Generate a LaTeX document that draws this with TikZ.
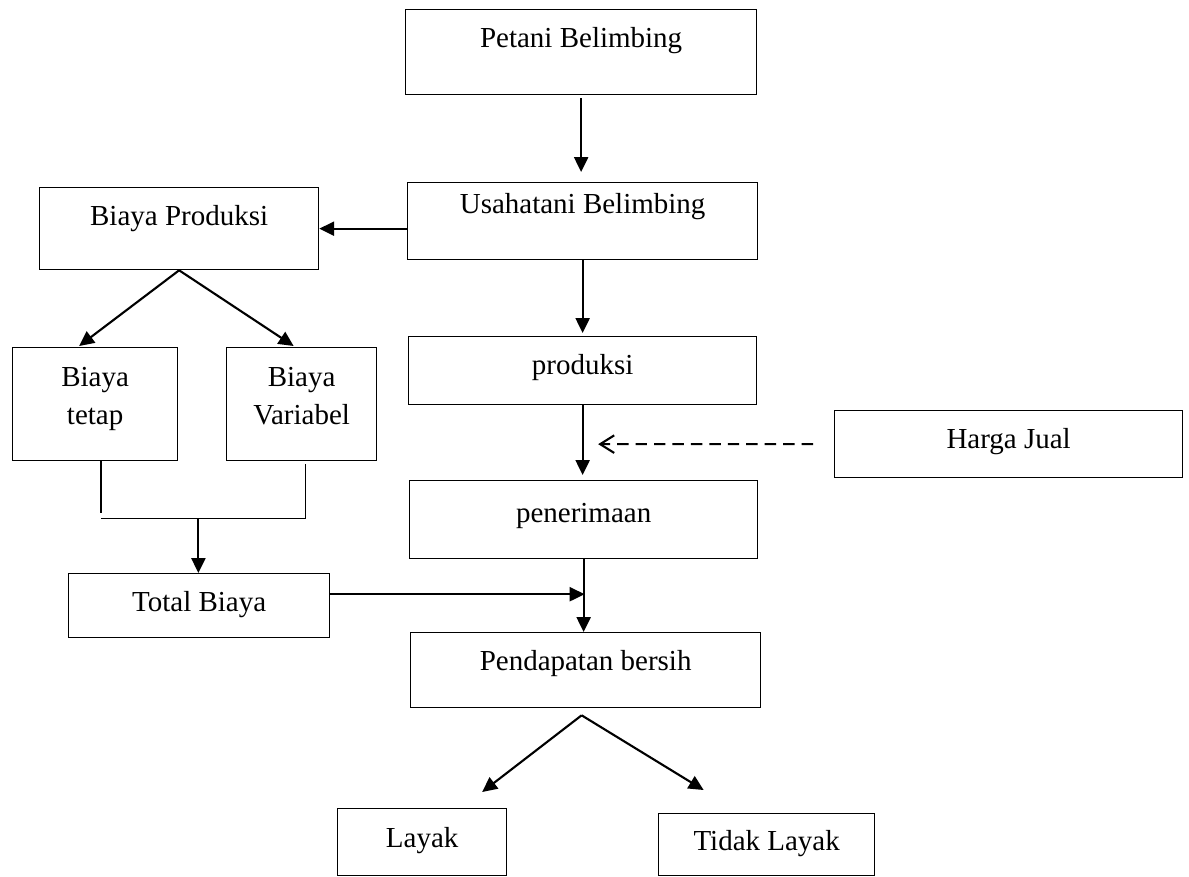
\documentclass[tikz,border=0pt]{standalone}
\usepackage{fontspec}
\setmainfont{Liberation Serif}
\usetikzlibrary{arrows.meta,calc}

\begin{document}
\begin{tikzpicture}[x=0.02cm,y=-0.02cm,
  font=\fontsize{16.5}{21.5}\selectfont,
  kotak/.style={draw,line width=0.75pt,inner sep=0pt,anchor=north west},
  baris/.style={kotak,text height=0.76cm},
  panah/.style={line width=1.2pt,-{Triangle[length=8.5pt,width=8pt]}},
  garis/.style={line width=0.75pt},
  putus/.style={line width=1.2pt,dash pattern=on 6.5pt off 4pt,-{Straight Barb[length=8pt,width=10pt]}}]
\useasboundingbox (0,0) rectangle (1189,876);
\node[baris,minimum width=7.02cm,text depth=0.94cm] (petani) at (405,9) {Petani Belimbing};
\node[baris,minimum width=7cm,text height=0.62cm,text depth=0.92cm] (usaha) at (407,182) {Usahatani Belimbing};
\node[baris,minimum width=5.58cm,text depth=0.88cm] (bproduksi) at (39,187) {Biaya Produksi};
\node[kotak,minimum width=3.3cm,text height=1.54cm,text depth=0.72cm,align=center] (tetap) at (12,347) {Biaya\\tetap};
\node[kotak,minimum width=3cm,text height=1.54cm,text depth=0.72cm,align=center] (variabel) at (226,347) {Biaya\\Variabel};
\node[baris,minimum width=6.96cm,text depth=0.6cm] (produksi) at (408,336) {produksi};
\node[baris,minimum width=6.96cm,text depth=0.58cm] (harga) at (834,410) {Harga Jual};
\node[baris,minimum width=6.96cm,text height=0.84cm,text depth=0.72cm] (terima) at (409,480) {penerimaan};
\node[baris,minimum width=5.22cm,text depth=0.52cm] (total) at (68,573) {Total Biaya};
\node[baris,minimum width=7cm,text depth=0.74cm] (pendapatan) at (410,632) {Pendapatan bersih};
\node[baris,minimum width=3.38cm,text height=0.78cm,text depth=0.56cm] (layak) at (337,808) {Layak};
\node[baris,minimum width=4.32cm,text height=0.74cm,text depth=0.5cm] (tidak) at (658,813) {Tidak Layak};

\draw[panah,shorten <=0.06cm,shorten >=0.2cm] (petani.south) -- (petani.south |- usaha.north);
\draw[panah,shorten >=0.06cm] (usaha.south) -- (usaha.south |- produksi.north);
\draw[panah,shorten >=0.1cm] (produksi.south) -- (produksi.south |- terima.north);
\draw[panah] (terima.south) -- (terima.south |- pendapatan.north);
\draw[panah] (usaha.west |- bproduksi.east) -- (bproduksi.east);
\draw[panah] (bproduksi.south) -- ($(tetap.north)+(-16,-1)$);
\draw[panah] (bproduksi.south) -- ($(variabel.north)+(-8,-1)$);
\draw[garis] ($(tetap.south)+(6,0)$) -- ++(0,52);
\draw[garis] ($(variabel.south)+(4,3)$) |- ($(tetap.south)+(6,57)$);
\coordinate (gabung) at ($(tetap.south)!0.5!(variabel.south)+(0,57)$);
\draw[panah] (gabung) -- (gabung |- total.north);
\coordinate (temu) at ($(terima.south)!0.48!(pendapatan.north)$);
\draw[panah] (total.east |- temu) -- (temu);
\coordinate (masuk) at ($(produksi.south)!0.52!(terima.north)$);
\draw[putus] ($(harga.west)+(-21,0)$) -- ($(masuk)+(15,0)$);
\coordinate (cabang) at ($(pendapatan.south)+(-4,7)$);
\draw[panah] (cabang) -- ($(layak.north)+(60,-16)$);
\draw[panah] (cabang) -- ($(tidak.north)+(-63,-23)$);
\end{tikzpicture}
\end{document}
